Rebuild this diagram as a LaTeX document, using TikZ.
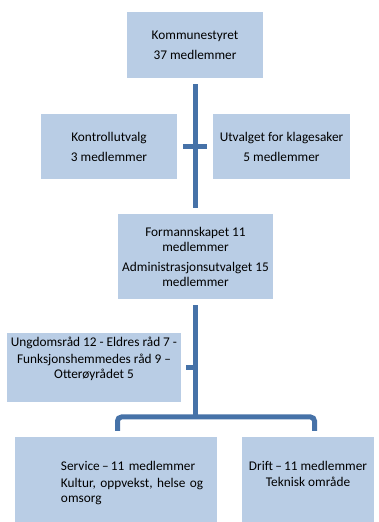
\documentclass[tikz,border=0pt]{standalone}
\usepackage{fontspec}
\setmainfont{Carlito}
\usetikzlibrary{positioning}

\definecolor{boxblue}{RGB}{185,205,229}
\definecolor{lineblue}{RGB}{70,114,168}

\tikzset{
  orgbox/.style={fill=boxblue, inner sep=4pt, align=center, font=\fontsize{13.3}{15}\selectfont},
  orgline/.style={draw=lineblue, line width=5pt},
}

\begin{document}
\begin{tikzpicture}[x=1pt,y=1pt]
  \useasboundingbox (0,0) rectangle (378,522);
  \clip (0,0) rectangle (378,522);

  % Kommunestyret on top
  \node[orgbox, minimum width=136pt, minimum height=66pt] (styret) at (195,477) {Kommunestyret\\[5pt]37 medlemmer};

  % Control committees beside the trunk
  \node[orgbox, minimum width=136pt, minimum height=65pt] (kontroll) at (109,375.5) {Kontrollutvalg\\[5pt]3 medlemmer};
  \node[orgbox, minimum width=137pt, minimum height=65pt] (klage) at (281.5,375.5) {Utvalget for klagesaker\\[5pt]5 medlemmer};

  % Formannskapet
  \node[orgbox, minimum width=151pt, minimum height=85pt] (formann) at (195.5,265.5) {Formannskapet 11\\medlemmer\\[5pt]Administrasjonsutvalget 15\\medlemmer};

  % Councils
  \node[orgbox, minimum width=168pt, minimum height=65pt] (ungdom) at (94,154.5) {Ungdomsråd 12 - Eldres råd 7 -\\[2pt]Funksjonshemmedes råd 9 --\\Otterøyrådet 5\\[4pt]};

  % Committees at the bottom
  \node[orgbox, text width=194pt, align=left, minimum height=93pt] (service) at (116,38.5) {\leftskip=42pt Service\,--\,11 medlemmer\\[2pt]Kultur, oppvekst, helse og\\omsorg\\[19pt]};
  \node[orgbox, minimum width=132pt, minimum height=93pt] (drift) at (308,38.5) {Drift\,--\,11 medlemmer\\[1pt]Teknisk område\\[5pt]};

  % Lines
  \coordinate (bus) at (195,105);
  \draw[orgline, shorten <=6pt, shorten >=6pt] (styret.south) -- (styret.south |- formann.north);
  \draw[orgline, shorten <=6pt, shorten >=6pt] (kontroll.east) -- (klage.west);
  \draw[orgline, shorten <=6pt] (formann.south) -- (formann.south |- bus);
  \draw[orgline, shorten <=5pt] (ungdom.east) -- (ungdom.east -| formann.south);
  \draw[orgline, rounded corners=4pt, shorten <=6pt, shorten >=6pt] ([xshift=1.5pt]service.north) |- (bus) -| ([xshift=6.5pt]drift.north);
\end{tikzpicture}
\end{document}
